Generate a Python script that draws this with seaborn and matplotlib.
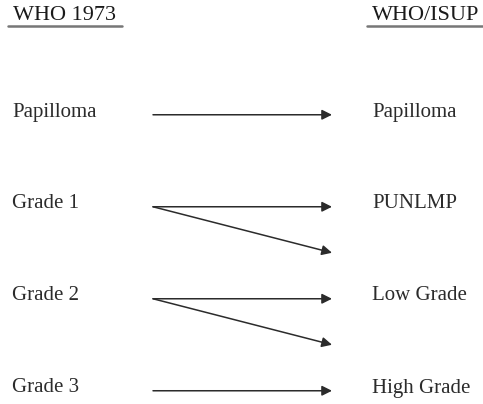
import matplotlib
matplotlib.use("Agg")
import matplotlib.pyplot as plt
import seaborn as sns

# headers and labels
left_title = "WHO 1973"
right_title = "WHO/ISUP"
left_labels = ["Papilloma", "Grade 1", "Grade 2", "Grade 3"]
right_labels = ["Papilloma", "PUNLMP", "Low Grade", "High Grade"]
# arrows: (source row, target row); half rows point between two categories
arrow_src = [0, 1, 1, 2, 2, 3]
arrow_dst = [0, 1, 1.5, 2, 2.5, 3]

sns.set_theme(style="white")
plt.rcParams["font.family"] = ["Liberation Serif", "DejaVu Serif"]

ink = "#2b2b2b"
fig = plt.figure(figsize=(4.83, 4.04), dpi=100)
fig.patch.set_facecolor("white")
ax = fig.add_axes([0, 0, 1, 1])
ax.set_facecolor("white")
# x in pixels, y in row units (row 0 at y=112px, 92px per row)
ax.set_xlim(0, 483)
ax.set_ylim((404 - 112) / 92, -112 / 92)
ax.set_axis_off()

x_left, x_a0, x_a1, x_right = 12, 153, 332, 372

for i, lab in enumerate(left_labels):
    ax.text(x_left, i, lab, ha="left", va="center", fontsize=15, color=ink)
for i, lab in enumerate(right_labels):
    ax.text(x_right, i, lab, ha="left", va="center", fontsize=15, color=ink)

for s, d in zip(arrow_src, arrow_dst):
    ax.annotate("", xy=(x_a1, d + 0.03), xytext=(x_a0, s + 0.03),
                arrowprops=dict(arrowstyle="-|>", mutation_scale=15, lw=1.1,
                                color=ink, shrinkA=0, shrinkB=0))

hy = -1.05
ax.text(13, hy, left_title, ha="left", va="center", fontsize=16, color="#1a1a1a")
ax.text(372, hy, right_title, ha="left", va="center", fontsize=16, color="#1a1a1a")
uy = hy + 11 / 92
ax.plot([8, 122], [uy, uy], color="#777777", lw=1.8)
ax.plot([367, 483], [uy, uy], color="#777777", lw=1.8)

fig.savefig("out.png", dpi=100, facecolor="white")
